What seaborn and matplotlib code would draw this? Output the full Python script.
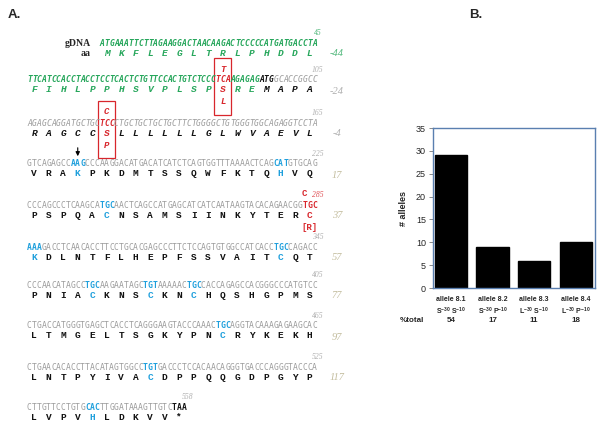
import matplotlib
matplotlib.use("Agg")
import matplotlib.pyplot as plt
import seaborn as sns
from matplotlib.patches import Rectangle

# ---------------- panel A: gDNA / protein sequence ----------------
dna_rows = [
    "ATGAAATTCTTAGAAGGACTAACAAGACTCCCCCATGATGACCTA",
    "TTCATCCACCTACCTCCTCACTCTGTTCCACTGTCTCCCTCAAGAGAGATGGCACCGGCC",
    "AGAGCAGGATGCTGCTCCCTGCTGCTGCTGCTTCTGGGGCTGTGGGTGGCAGAGGTCCTA",
    "GTCAGAGCCAAGCCCAAGGACATGACATCATCTCAGTGGTTTAAAACTCAGCATGTGCAG",
    "CCCAGCCCTCAAGCATGCAACTCAGCCATGAGCATCATCAATAAGTACACAGAACGGTGC",
    "AAAGACCTCAACACCTTCCTGCACGAGCCCTTCTCCAGTGTGGCCATCACCTGCCAGACC",
    "CCCAACATAGCCTGCAAGAATAGCTGTAAAAACTGCCACCAGAGCCACGGGCCCATGTCC",
    "CTGACCATGGGTGAGCTCACCTCAGGGAAGTACCCAAACTGCAGGTACAAAGAGAAGCAC",
    "CTGAACACACCTTACATAGTGGCCTGTGACCCTCCACAACAGGGTGACCCAGGGTACCCA",
    "CTTGTTCCTGTGCACTTGGATAAAGTTGTCTAA",
]
aa_rows = [
    "MKFLEGLTRLPHDDL",
    "FIHLPPHSVPLSPSREMAPA",
    "RAGCCSLLLLLLGLWVAEVL",
    "VRAKPKDMTSSQWFKTQHVQ",
    "PSPQACNSAMSIINKYTERC",
    "KDLNTFLHEPFSSVAITCQT",
    "PNIACKNSCKNCHQSHGPMS",
    "LTMGELTSGKYPNCRYKEKH",
    "LNTPYIVACDPPQQGDPGYP",
    "LVPVHLDKVV*",
]
nt_numbers = [45, 105, 165, 225, 285, 345, 405, 465, 525, 558]
aa_numbers = [-44, -24, -4, 17, 37, 57, 77, 97, 117, None]

# highlighted codons per row: snp (red), cys/his/lys (cyan), start/stop (black)
highlights = {
    1: {13: "snp", 16: "start"},
    2: {5: "snp"},
    3: {3: "cys", 17: "cys"},
    4: {5: "cys", 19: "snp"},
    5: {0: "cys", 17: "cys"},
    6: {4: "cys", 8: "cys", 11: "cys"},
    7: {13: "cys"},
    8: {8: "cys"},
    9: {4: "cys", 10: "stop"},
}
# variant residues: (row, codon, above, below, boxed)
variants = [(1, 13, "T", "L", True), (2, 5, "C", "P", True), (4, 19, "C", "[R]", False)]
signal_green = {0: 15, 1: 16}   # codons coloured green (signal region)

# ---------------- panel B: allele frequencies ----------------
alleles = ["allele 8.1", "allele 8.2", "allele 8.3", "allele 8.4"]
res30 = ["S", "S", "L", "L"]
res10 = ["S", "P", "S", "P"]
counts = [29, 9, 6, 10]
pct_total = [54, 17, 11, 18]

GREEN = "#26a65b"
GRAY = "#9c9c9c"
CYAN = "#1e9fdc"
RED = "#d8262c"
BLACK = "#111111"
OLIVE = "#b3ab84"

sns.set_style("white")
plt.rcParams["font.family"] = ["Liberation Sans", "DejaVu Sans"]
plt.rcParams["mathtext.default"] = "regular"

fig = plt.figure(figsize=(6, 4.32), dpi=100)
axA = fig.add_axes([0, 0, 1, 1])
axA.set_xlim(0, 600)
axA.set_ylim(432, 0)
axA.axis("off")

X0 = 27
PITCH = 4.833
ROW_Y = [43, 80, 123, 164, 205, 247, 285, 326, 367, 407]
AA_DY = 10

for r, seq in enumerate(dna_rows):
    y = ROW_Y[r]
    start = X0 + (60 - len(seq)) * PITCH if r == 0 else X0
    ital = "italic" if r < 3 else "normal"
    for c in range(len(seq) // 3):
        kind = highlights.get(r, {}).get(c)
        green = c < signal_green.get(r, 0) and kind is None
        if green:
            col, wt, aacol = GREEN, "bold", GREEN
        elif kind == "snp":
            col, wt, aacol = RED, "bold", RED
        elif kind == "cys":
            col, wt, aacol = CYAN, "bold", CYAN
        elif kind in ("start", "stop"):
            col, wt, aacol = BLACK, "bold", BLACK
        else:
            col, wt, aacol = GRAY, "normal", BLACK
        for k in range(3):
            i = 3 * c + k
            axA.text(start + (i + 0.5) * PITCH, y, seq[i], color=col, fontsize=5.8,
                     fontweight=wt, fontstyle=ital, family="DejaVu Sans Mono",
                     ha="center", va="center")
        cx = start + (3 * c + 1.5) * PITCH
        axA.text(cx, y + AA_DY, aa_rows[r][c], color=aacol, fontsize=6.8,
                 fontweight="bold", fontstyle=ital, family="Liberation Mono",
                 ha="center", va="center")
    end = start + len(seq) * PITCH
    ncol = RED if r == 4 else (GREEN if r == 0 else GRAY)
    axA.text(end + 1, y - 10, str(nt_numbers[r]), color=ncol, fontsize=5.5,
             fontstyle="italic", family="Liberation Serif", ha="center", va="center", alpha=0.8)
    if aa_numbers[r] is not None:
        acol = GREEN if r == 0 else (GRAY if r < 3 else OLIVE)
        axA.text(337, y + AA_DY + 1, str(aa_numbers[r]), color=acol, fontsize=7.5,
                 fontstyle="italic", family="Liberation Serif", ha="center", va="center", alpha=0.8)

for r, c, above, below, boxed in variants:
    y = ROW_Y[r]
    cx = X0 + (3 * c + 1.5) * PITCH
    ital = "italic" if boxed else "normal"
    up_x = cx if boxed else cx - 5
    axA.text(up_x, y - 11, above, color=RED, fontsize=6.5, fontweight="bold",
             fontstyle=ital, family="Liberation Mono", ha="center", va="center")
    axA.text(cx, y + 22, below, color=RED, fontsize=6.5, fontweight="bold",
             fontstyle=ital, family="Liberation Mono", ha="center", va="center")
    if boxed:
        axA.add_patch(Rectangle((cx - 8.5, y - 22.5), 17, 57, fill=False,
                                edgecolor=RED, lw=0.9))

# arrow above AAG (row 3, codon 3)
ax_cx = X0 + (3 * 3 + 1.5) * PITCH
axA.annotate("", xy=(ax_cx, ROW_Y[3] - 5), xytext=(ax_cx, ROW_Y[3] - 19),
             arrowprops=dict(arrowstyle="-|>", color="black", lw=0.8, mutation_scale=6))

axA.text(91, ROW_Y[0], "gDNA", fontsize=7, fontweight="bold", family="Liberation Serif",
         ha="right", va="center")
axA.text(91, ROW_Y[0] + AA_DY, "aa", fontsize=7, fontweight="bold", family="Liberation Serif",
         ha="right", va="center")
axA.text(8, 15, "A.", fontsize=9.5, fontweight="bold", ha="left", va="center")
axA.text(469, 15, "B.", fontsize=9.5, fontweight="bold", ha="left", va="center")

# ---------------- bar chart ----------------
axB = fig.add_axes([433 / 600, 1 - 288 / 432, 162 / 600, 160 / 432])
sns.barplot(x=alleles, y=counts, color="black", saturation=1, width=0.78,
            edgecolor="black", errorbar=None, ax=axB)
axB.set_xlim(-0.43, 3.46)
axB.set_ylim(0, 35)
axB.set_yticks(range(0, 36, 5))
axB.tick_params(axis="y", labelsize=6.5, length=3, width=0.6, color="#777777", pad=2, left=True)
labels = [f"{a}\n{p}$^{{-30}}$ {q}$^{{-10}}$" for a, p, q in zip(alleles, res30, res10)]
axB.set_xticks(range(len(alleles)))
axB.set_xticklabels(labels, fontsize=5, fontweight="bold", linespacing=1.3)
axB.tick_params(axis="x", length=0, pad=6)
axB.set_xlabel("")
axB.set_ylabel("# alleles", fontsize=6.5, fontweight="bold", labelpad=6)
for s in axB.spines.values():
    s.set_visible(True)
    s.set_color("#5a7fb0")
    s.set_linewidth(1.0)

trans = axB.get_xaxis_transform()
for i, p in enumerate(pct_total):
    axB.text(i, -0.205, str(p), transform=trans, fontsize=5.8, fontweight="bold",
             ha="center", va="center")
axB.text(-33 / 162, -0.205, "%total", transform=axB.transAxes, fontsize=5.8,
         fontweight="bold", ha="left", va="center")

fig.savefig("out.png", dpi=100)
